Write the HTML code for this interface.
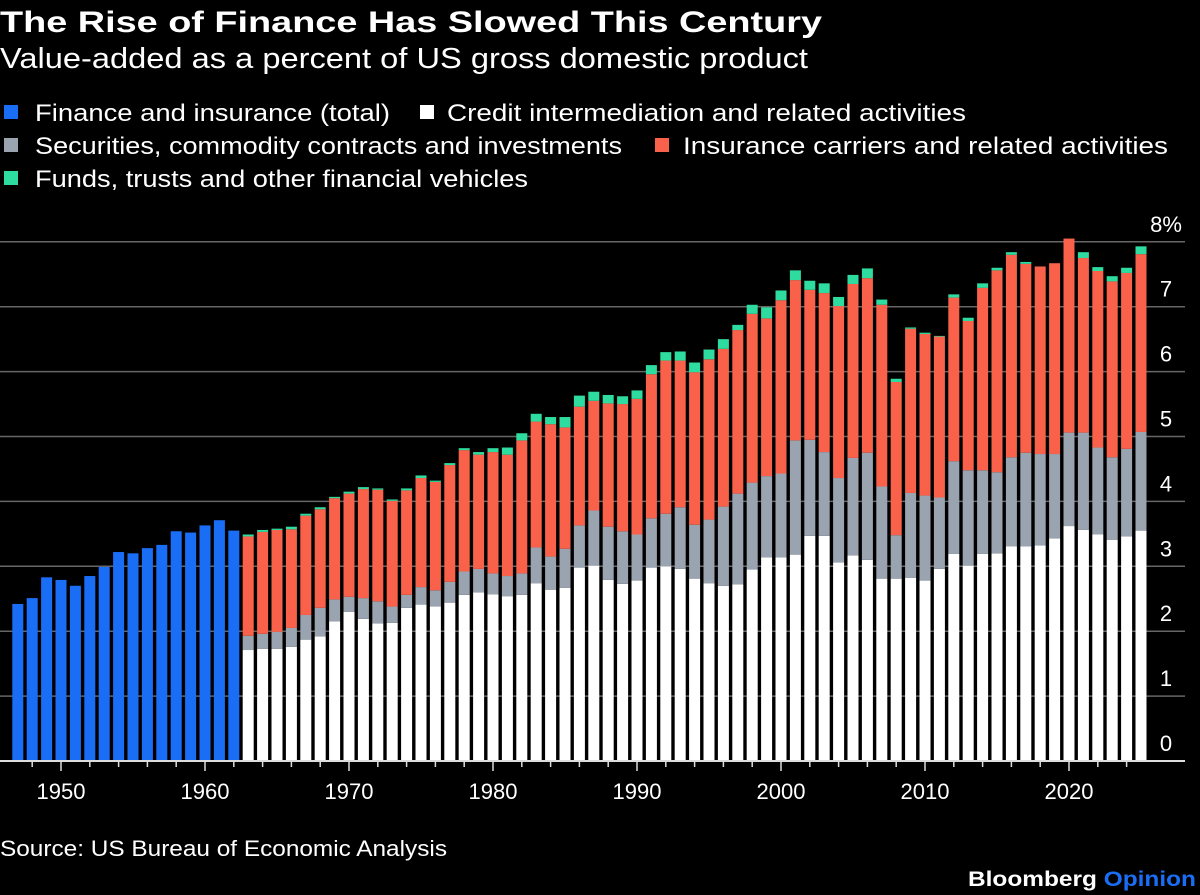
<!DOCTYPE html>
<html><head><meta charset="utf-8"><style>
html,body{margin:0;padding:0;background:#000;}
svg{display:block;font-family:"Liberation Sans",sans-serif;}
</style></head><body>
<svg id="chart" width="1200" height="895" viewBox="0 0 1200 895" xmlns="http://www.w3.org/2000/svg">
<rect width="1200" height="895" fill="#000"/>
<text x="0" y="32" fill="#fff" font-size="30" font-weight="bold" textLength="822" lengthAdjust="spacingAndGlyphs">The Rise of Finance Has Slowed This Century</text>
<text x="0" y="68" fill="#fff" font-size="29" textLength="808" lengthAdjust="spacingAndGlyphs">Value-added as a percent of US gross domestic product</text>
<g font-size="24" fill="#fff">
<g><rect x="4" y="105" width="14" height="14" fill="#1a6ef5"/><text x="35" y="121" textLength="355" lengthAdjust="spacingAndGlyphs">Finance and insurance (total)</text></g>
<g><rect x="420" y="105" width="14" height="14" fill="#fff"/><text x="447" y="121" textLength="519" lengthAdjust="spacingAndGlyphs">Credit intermediation and related activities</text></g>
<g><rect x="4" y="138" width="14" height="14" fill="#9aa3b0"/><text x="35" y="154" textLength="587" lengthAdjust="spacingAndGlyphs">Securities, commodity contracts and investments</text></g>
<g><rect x="655" y="138" width="14" height="14" fill="#fa614a"/><text x="683" y="154" textLength="485" lengthAdjust="spacingAndGlyphs">Insurance carriers and related activities</text></g>
<g><rect x="4" y="171" width="14" height="14" fill="#2fdc9f"/><text x="35" y="187" textLength="493" lengthAdjust="spacingAndGlyphs">Funds, trusts and other financial vehicles</text></g>
</g>
<g id="grid"></g>
<g id="bars"></g>
<g id="axes"></g>
<text x="0" y="856" fill="#fff" font-size="22" textLength="447" lengthAdjust="spacingAndGlyphs">Source: US Bureau of Economic Analysis</text>
<text x="968" y="886" font-size="21" font-weight="bold" fill="#fff" textLength="228" lengthAdjust="spacingAndGlyphs">Bloomberg <tspan fill="#1a6ef5">Opinion</tspan></text>
</svg>
<script>
const totalYears=[1947,1948,1949,1950,1951,1952,1953,1954,1955,1956,1957,1958,1959,1960,1961,1962];
const totalValues=[2.42,2.51,2.83,2.79,2.70,2.85,2.99,3.22,3.20,3.28,3.33,3.54,3.52,3.63,3.71,3.55];
const stackStart=1963;
const credit=[1.71,1.73,1.73,1.76,1.87,1.92,2.15,2.30,2.19,2.12,2.13,2.36,2.41,2.38,2.44,2.56,2.60,2.57,2.54,2.56,2.74,2.64,2.67,2.98,3.01,2.79,2.73,2.78,2.98,3.00,2.96,2.81,2.74,2.70,2.72,2.95,3.14,3.14,3.18,3.47,3.47,3.06,3.17,3.10,2.81,2.81,2.82,2.78,2.96,3.19,3.01,3.19,3.20,3.31,3.31,3.32,3.43,3.62,3.56,3.49,3.41,3.46,3.55];
const securities=[0.22,0.23,0.26,0.29,0.38,0.44,0.34,0.23,0.32,0.34,0.25,0.20,0.27,0.25,0.32,0.36,0.36,0.32,0.31,0.33,0.55,0.51,0.60,0.65,0.85,0.82,0.81,0.71,0.76,0.81,0.95,0.83,0.98,1.22,1.40,1.34,1.25,1.29,1.76,1.48,1.29,1.30,1.50,1.65,1.42,0.67,1.31,1.31,1.10,1.43,1.47,1.29,1.25,1.37,1.44,1.41,1.30,1.44,1.50,1.34,1.27,1.35,1.52];
const insurance=[1.53,1.57,1.57,1.52,1.53,1.52,1.56,1.59,1.68,1.72,1.63,1.61,1.68,1.67,1.80,1.87,1.76,1.87,1.87,2.05,1.94,2.04,1.87,1.83,1.69,1.90,1.96,2.09,2.22,2.36,2.26,2.35,2.47,2.43,2.52,2.60,2.43,2.67,2.47,2.31,2.45,2.65,2.68,2.69,2.80,2.36,2.53,2.49,2.48,2.52,2.30,2.81,3.11,3.12,2.91,2.89,2.94,2.99,2.69,2.72,2.71,2.71,2.74];
const funds=[0.03,0.03,0.02,0.04,0.03,0.03,0.02,0.03,0.03,0.02,0.02,0.03,0.04,0.02,0.03,0.03,0.04,0.06,0.11,0.11,0.12,0.11,0.16,0.17,0.14,0.13,0.12,0.13,0.14,0.13,0.14,0.15,0.15,0.15,0.08,0.14,0.17,0.15,0.15,0.14,0.15,0.14,0.14,0.15,0.08,0.05,0.02,0.02,0.01,0.05,0.05,0.07,0.04,0.04,0.03,0.00,0.00,0.00,0.09,0.06,0.08,0.08,0.12];
const yTicks=[0,1,2,3,4,5,6,7,8];
const yTickLabels=["0","1","2","3","4","5","6","7","8%"];
const xLabelYears=[1950,1960,1970,1980,1990,2000,2010,2020];
const xLabels=["1950","1960","1970","1980","1990","2000","2010","2020"];

const NS="http://www.w3.org/2000/svg";
const y0=761, pxPerUnit=64.9;
function yScale(v){return y0-v*pxPerUnit;}
function xScale(yr){return 17.8+(yr-1947)*14.4;}
const barW=11;
function mk(tag,attrs,parent){const e=document.createElementNS(NS,tag);for(const k in attrs)e.setAttribute(k,attrs[k]);parent.appendChild(e);return e;}
const grid=document.getElementById('grid'),bars=document.getElementById('bars'),axes=document.getElementById('axes');
yTicks.forEach((t,i)=>{
  if(t>0){const l=mk('line',{x1:0,x2:1185,y1:yScale(t),y2:yScale(t),stroke:'#666','stroke-width':1.5},grid);
  
  }
  const tx=mk('text',{x:1166,y:yScale(t)-10,fill:'#fff','font-size':22,'text-anchor':'middle'},axes);
  tx.textContent=yTickLabels[i];
  
  
});
totalYears.forEach((yr,i)=>{
  const r=mk('rect',{x:xScale(yr)-barW/2,y:yScale(totalValues[i]),width:barW,height:yScale(0)-yScale(totalValues[i]),fill:'#1a6ef5'},bars);
  
  
});
const series=[[credit,'#ffffff','credit'],[securities,'#9aa3b0','securities'],[insurance,'#fa614a','insurance'],[funds,'#2fdc9f','funds']];
credit.forEach((_,i)=>{
  const yr=stackStart+i;let base=0;
  series.forEach(([arr,col,nm])=>{
    const v=arr[i];
    const r=mk('rect',{x:xScale(yr)-barW/2,y:yScale(base+v),width:barW,height:yScale(base)-yScale(base+v),fill:col},bars);
    
    
    base+=v;
  });
});
const ax=mk('line',{x1:0,x2:1185,y1:y0,y2:y0,stroke:'#ddd','stroke-width':2},axes);


for(let yr=1948;yr<=2024;yr+=2){
  const major=yr%10===0;
  const tk=mk('line',{x1:xScale(yr),x2:xScale(yr),y1:y0,y2:y0+(major?10:6),stroke:'#ddd','stroke-width':1.5},axes);
  
  
}
xLabelYears.forEach((yr,i)=>{
  const tx=mk('text',{x:xScale(yr),y:799,fill:'#fff','font-size':22,'text-anchor':'middle'},axes);
  tx.textContent=xLabels[i];
  
  
});
</script>
</body></html>
